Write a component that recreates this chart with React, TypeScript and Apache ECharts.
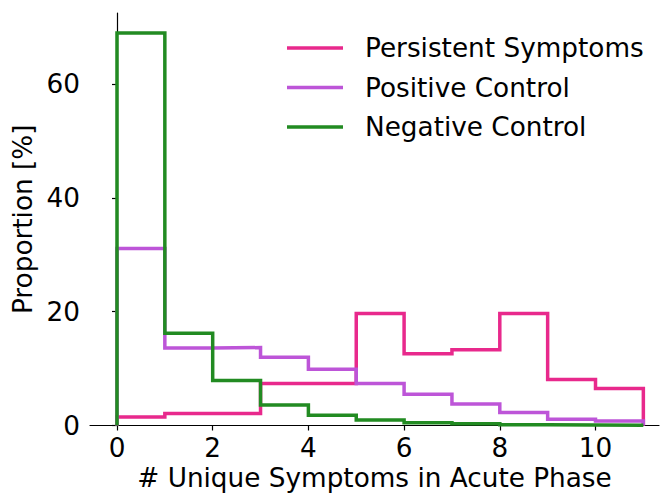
import React, { useEffect, useRef } from "react";
import * as echarts from "echarts";

const binEdges = [0, 1, 2, 3, 4, 5, 6, 7, 8, 9, 10, 11];
const persistent = [1.5, 2.1, 2.1, 7.4, 7.4, 19.7, 12.6, 13.3, 19.7, 8.1, 6.5];
const positive = [31.1, 13.6, 13.7, 12.0, 9.9, 7.4, 5.5, 3.8, 2.3, 1.1, 0.8];
const negative = [69.0, 16.2, 7.9, 3.6, 1.8, 0.95, 0.5, 0.3, 0.15, 0.1, 0.05];
const xTicks = [0, 2, 4, 6, 8, 10];
const yTicks = [0, 20, 40, 60];
const seriesNames = ["Persistent Symptoms", "Positive Control", "Negative Control"];
const seriesColors = ["#e8298c", "#bd55d8", "#228b22"];

function stepPoints(vals: number[]): number[][] {
  const pts: number[][] = [[binEdges[0], 0]];
  vals.forEach((v, i) => {
    pts.push([binEdges[i], v]);
    pts.push([binEdges[i + 1], v]);
  });
  pts.push([binEdges[vals.length], 0]);
  return pts;
}

const FONT = "DejaVu Sans";
const FS = 26.3;

export default function App() {
  const ref = useRef<HTMLDivElement>(null);
  useEffect(() => {
    if (!ref.current) return;
    const chart = echarts.init(ref.current, null, { renderer: "svg" });
    const allVals = [persistent, positive, negative];
    chart.setOption({
      animation: false,
      backgroundColor: "#ffffff",
      grid: { left: 90, right: 1, top: 13, bottom: 67.5, containLabel: false, outerBoundsMode: "none" },
      legend: {
        orient: "vertical",
        left: 287,
        top: 33,
        padding: 0,
        icon: "rect",
        itemWidth: 56,
        itemHeight: 3.5,
        itemGap: 9.5,
        data: seriesNames,
        textStyle: {
          fontFamily: FONT,
          fontSize: FS,
          color: "#000",
          lineHeight: 30,
          padding: [0, 0, 0, 17],
        },
      },
      xAxis: {
        type: "value",
        min: -0.564,
        max: 11.327,
        splitLine: { show: false },
        axisLine: { show: true, lineStyle: { color: "#000", width: 1.2 } },
        axisTick: { show: true, length: 5, customValues: xTicks, lineStyle: { color: "#000", width: 1.2 } },
        axisLabel: { customValues: xTicks, fontFamily: FONT, fontSize: FS, color: "#000", margin: 9 },
        name: "# Unique Symptoms in Acute Phase",
        nameLocation: "middle",
        nameGap: 39,
        nameTextStyle: { fontFamily: FONT, fontSize: FS, color: "#000" },
      },
      yAxis: {
        type: "value",
        min: 0,
        max: 72.5,
        splitLine: { show: false },
        axisLine: { show: true, lineStyle: { color: "#000", width: 1.2 } },
        axisTick: { show: true, length: 5, customValues: yTicks, lineStyle: { color: "#000", width: 1.2 } },
        axisLabel: { customValues: yTicks, fontFamily: FONT, fontSize: FS, color: "#000", margin: 10 },
        name: "Proportion [%]",
        nameLocation: "middle",
        nameGap: 50,
        nameTextStyle: { fontFamily: FONT, fontSize: FS, color: "#000" },
      },
      series: seriesNames.map((name, i) => ({
        name,
        type: "line",
        data: stepPoints(allVals[i]),
        symbol: "none",
        showSymbol: false,
        color: seriesColors[i],
        itemStyle: { color: seriesColors[i] },
        lineStyle: { color: seriesColors[i], width: 3.5, join: "miter", cap: "butt" },
        z: 2 + i,
      })),
    });
    return () => chart.dispose();
  }, []);
  return (
    <div
      ref={ref}
      style={{ position: "absolute", left: 0, top: 0, width: 660, height: 493 }}
    />
  );
}
